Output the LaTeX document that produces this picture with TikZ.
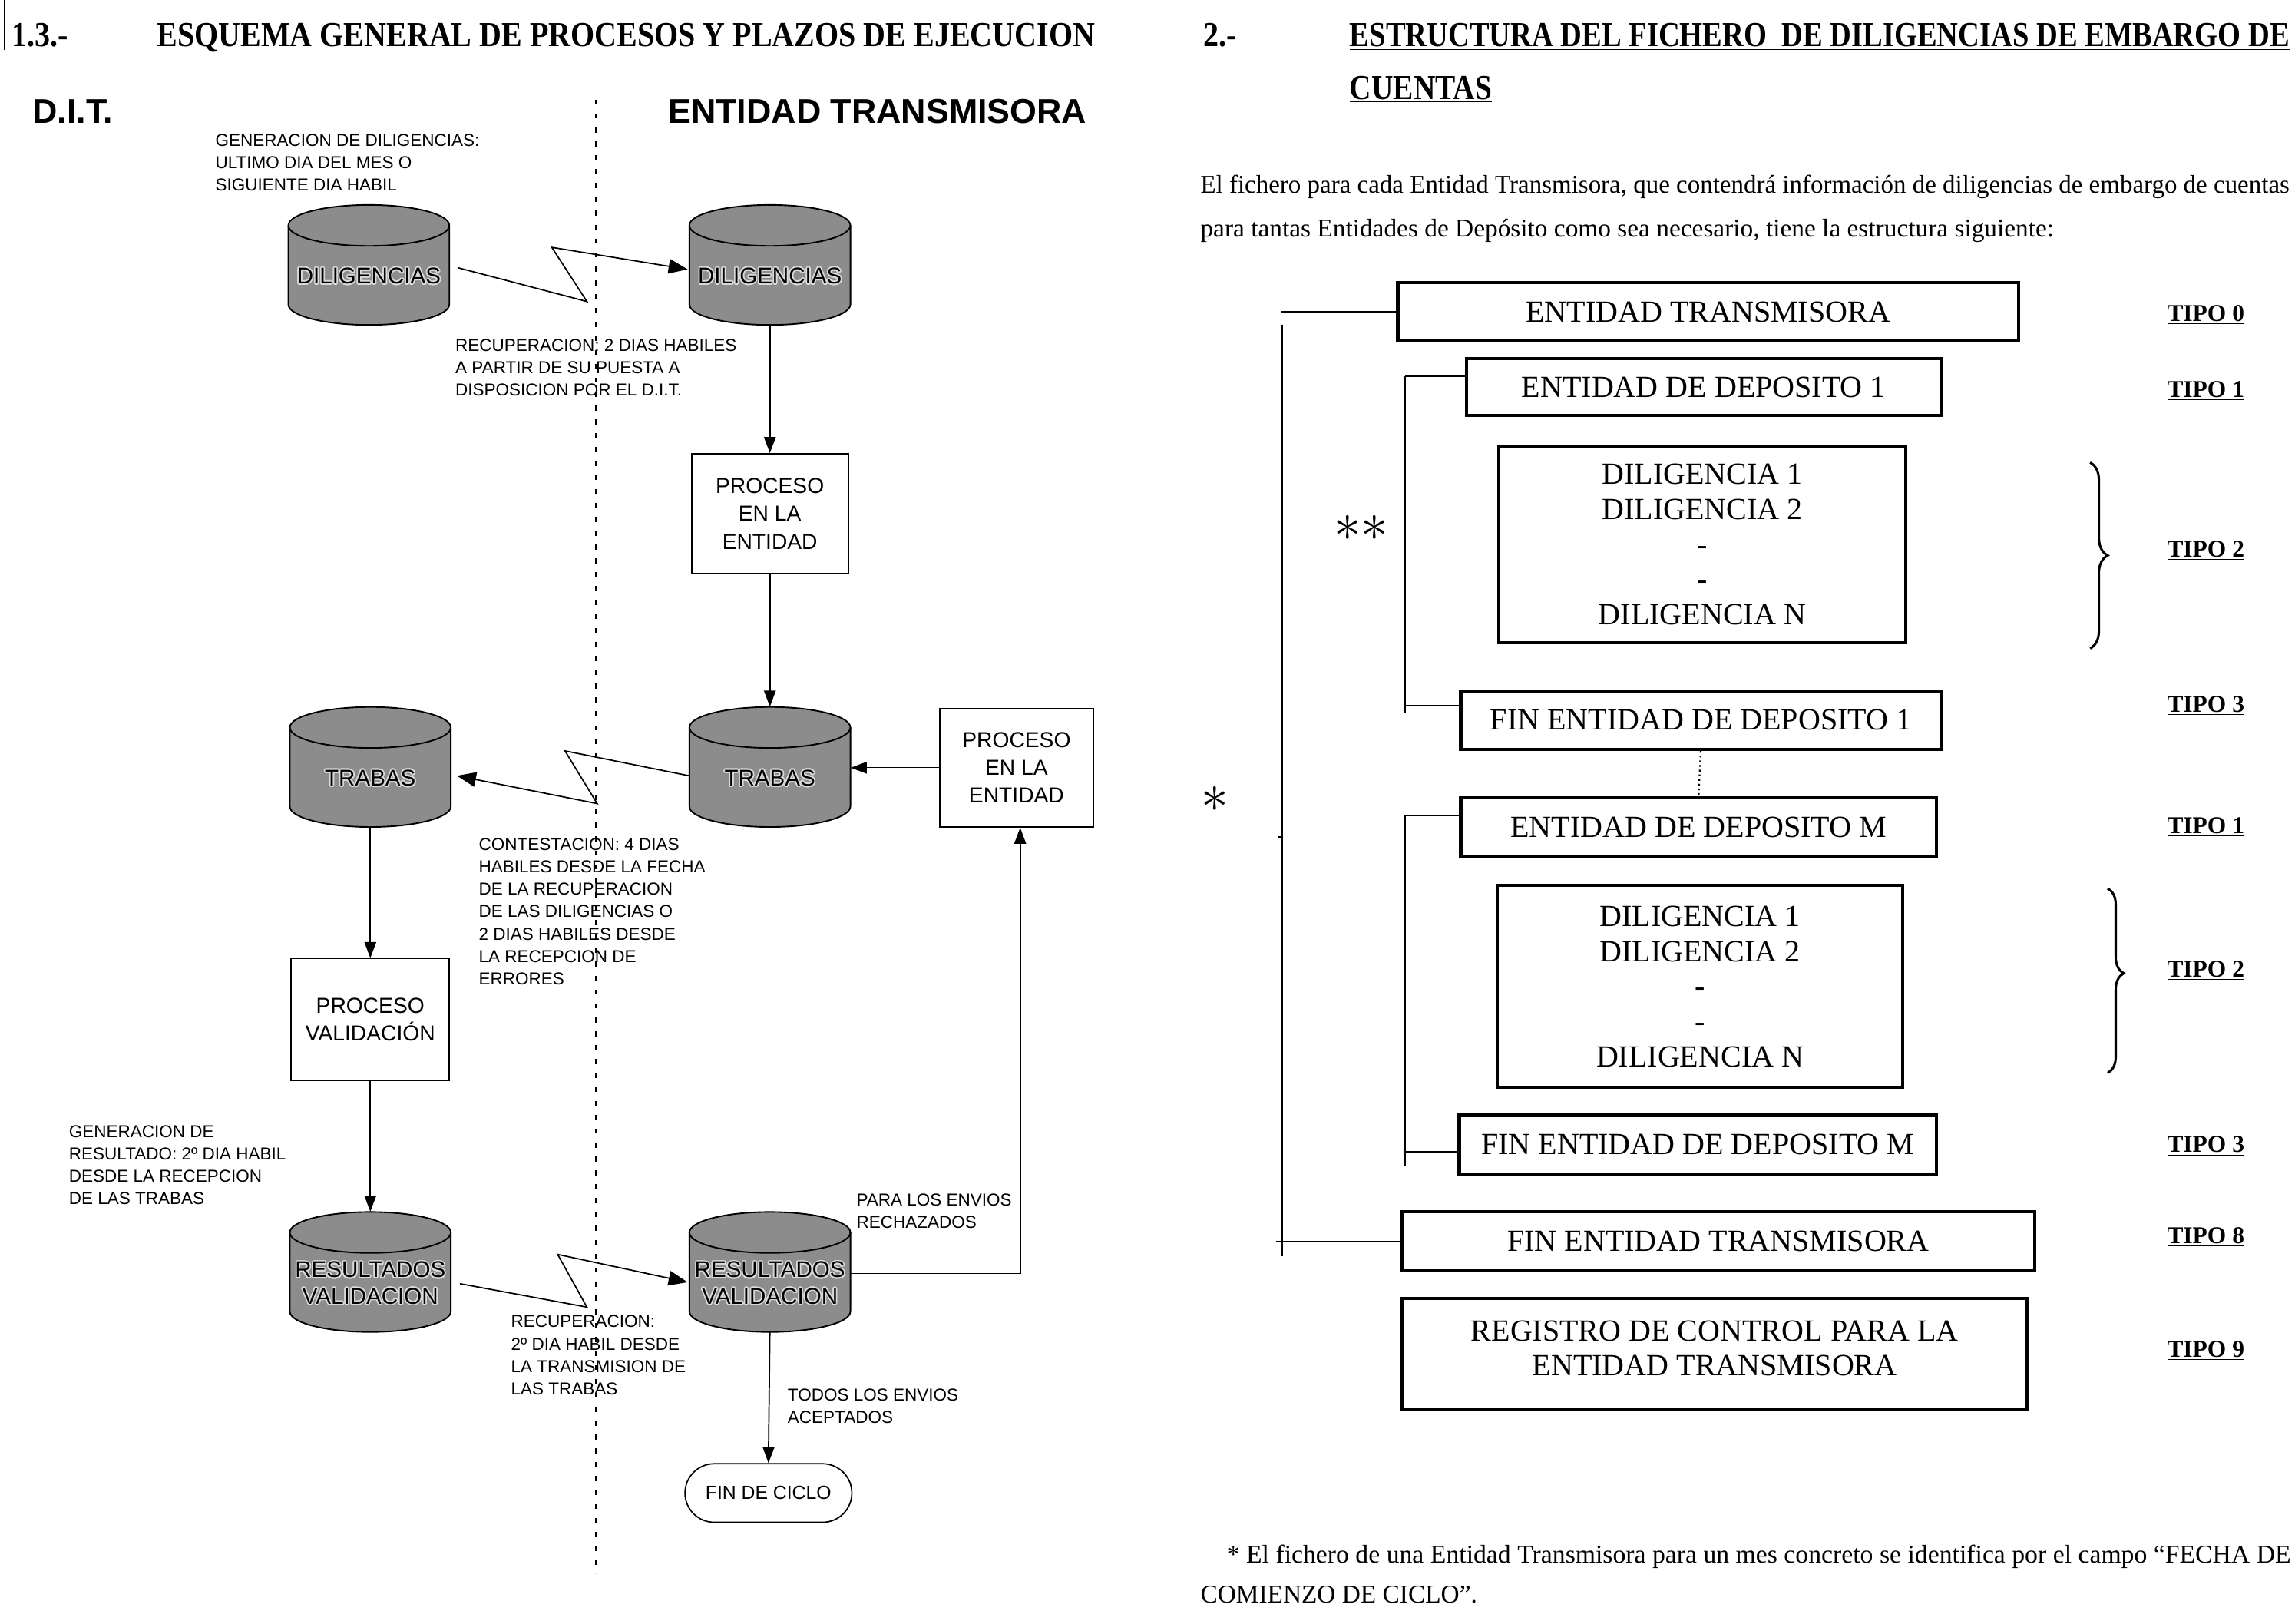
\documentclass[tikz,border=0pt]{standalone}
\usepackage{fontspec}
\setmainfont{Liberation Serif}
\newfontfamily\arialf{Liberation Sans}
\usepackage{contour}
\contourlength{0.9pt}
\usetikzlibrary{arrows.meta,decorations.pathreplacing,calc}
\definecolor{cylgray}{gray}{0.55}
\definecolor{cylhalo}{gray}{0.85}
\newcommand\ct[1]{\contour{cylhalo}{#1}}
\newcommand\dbcyl[4]{%
  \filldraw[fill=cylgray, draw=black, line width=1pt]
    (#2-55,#3+14) -- (#2-55,#3+68)
    arc[start angle=180, end angle=360, x radius=55pt, y radius=14pt]
    -- (#2+55,#3+14)
    arc[start angle=0, end angle=180, x radius=55pt, y radius=14pt] -- cycle;
  \draw[line width=1pt] (#2-55,#3+14) arc[start angle=180, end angle=360, x radius=55pt, y radius=14pt];
  \node[cylanchor] (#1) at (#2,#3+41) {};
  \node[cyltext] (#1-t) at (#2,#3+49) {#4};
}
\begin{document}
\begin{tikzpicture}[x=1pt,y=-1pt,
  lbl/.style={font=\arialf\fontsize{11.8}{15.3}\selectfont, align=left, anchor=north west, inner sep=0pt},
  procbox/.style={draw, line width=0.9pt, font=\arialf\fontsize{14.8}{19}\selectfont, align=center, inner sep=0pt},
  cylanchor/.style={minimum width=110pt, minimum height=82pt, inner sep=0pt},
  cyltext/.style={font=\arialf\fontsize{15.5}{19}\selectfont, align=center, inner sep=0pt},
  flow/.style={line width=0.9pt, -{Triangle[length=11pt,width=8pt]}},
  zig/.style={line width=0.9pt, -{Triangle[length=13pt,width=10pt]}},
  rbox/.style={draw, line width=2.2pt, font=\fontsize{21}{24}\selectfont, align=center, inner sep=0pt},
  tipo/.style={font=\bfseries\fontsize{16.5}{20}\selectfont, inner sep=0pt},
  brk/.style={line width=1pt},
  hdr/.style={font=\arialf\bfseries\fontsize{23.5}{27}\selectfont, inner sep=0pt},
  ttl/.style={font=\bfseries\fontsize{24}{28}\selectfont, anchor=base west, inner sep=0pt},
  para/.style={font=\fontsize{17.5}{21}\selectfont, anchor=base west, inner sep=0pt},
  star/.style={font=\fontsize{30}{30}\selectfont, inner sep=0pt},
]
\fill[white] (0,0) rectangle (1568,1109.5);
\useasboundingbox (0,0) rectangle (1568,1109.5);

% scan edge mark
\draw[line width=0.8pt] (3,0) -- (3,34);

%================ LEFT PANEL =================
\node[ttl] (n13) at (8,32) {\scalebox{0.875}[1]{1.3.-}};
\node[ttl] (ttlL) at (107,32) {\resizebox{641pt}{\height}{\underline{ESQUEMA GENERAL DE PROCESOS Y PLAZOS DE EJECUCION}}};
\node[hdr, anchor=west] (hdit) at (22,76) {D.I.T.};
\node[hdr] (het) at (599.5,76) {ENTIDAD TRANSMISORA};

\coordinate (dtop) at (407,68);
\coordinate (dbot) at (407,1075);
\draw[line width=1pt, dash pattern=on 3.5pt off 6pt] (dtop) -- (dbot);

\node[lbl] (lgen) at (147,91.5) {GENERACION DE DILIGENCIAS:\\ULTIMO DIA DEL MES O\\SIGUIENTE DIA HABIL};

\dbcyl{cD1}{252}{140}{\ct{DILIGENCIAS}}
\dbcyl{cD2}{526}{140}{\ct{DILIGENCIAS}}

\node[lbl] (lrec1) at (311,231.5) {RECUPERACION: 2 DIAS HABILES\\A PARTIR DE SU PUESTA A\\DISPOSICION POR EL D.I.T.};

\node[procbox, minimum width=107pt, minimum height=82pt] (p1) at (526,351) {PROCESO\\EN LA\\ENTIDAD};

\dbcyl{cT2}{526}{483}{\ct{TRABAS}}
\dbcyl{cT1}{253}{483}{\ct{TRABAS}}

\node[procbox, minimum width=105pt, minimum height=81pt] (p2) at (694.5,524.5) {PROCESO\\EN LA\\ENTIDAD};

\node[lbl] (lcon) at (327,572.5) {CONTESTACION: 4 DIAS\\HABILES DESDE LA FECHA\\DE LA RECUPERACION\\DE LAS DILIGENCIAS O\\2 DIAS HABILES DESDE\\LA RECEPCION DE\\ERRORES};

\node[procbox, minimum width=108pt, minimum height=83pt] (pv) at (253,696.5) {PROCESO\\VALIDACIÓN};

\node[lbl] (lgres) at (47,768.5) {GENERACION DE\\RESULTADO: 2º DIA HABIL\\DESDE LA RECEPCION\\DE LAS TRABAS};

\dbcyl{cR1}{253}{828}{\ct{RESULTADOS}\\[-1pt]\ct{VALIDACION}}
\dbcyl{cR2}{526}{828}{\ct{RESULTADOS}\\[-1pt]\ct{VALIDACION}}

\node[lbl] (lpara) at (585,815.5) {PARA LOS ENVIOS\\RECHAZADOS};
\node[lbl] (lrec2) at (349,898.5) {RECUPERACION:\\2º DIA HABIL DESDE\\LA TRANSMISION DE\\LAS TRABAS};
\node[lbl] (ltod) at (538,948.5) {TODOS LOS ENVIOS\\ACEPTADOS};

\node[draw, line width=0.9pt, rounded corners=20pt, minimum width=114pt, minimum height=40pt,
      font=\arialf\fontsize{13}{16}\selectfont, inner sep=0pt] (fin) at (525,1020) {FIN DE CICLO};

% zigzag connectors
\coordinate (z1a) at (401,206);
\coordinate (z1b) at (377,169);
\draw[zig] ([xshift=6pt,yshift=-2pt]cD1.east) -- (z1a) -- (z1b) -- ([xshift=-1pt,yshift=-3pt]cD2.west);
\coordinate (z2a) at (386,513);
\coordinate (z2b) at (408,549);
\draw[zig] ([yshift=-6pt]cT2.west) -- (z2a) -- (z2b) -- ([xshift=4pt,yshift=-6pt]cT1.east);
\coordinate (z3a) at (401,893);
\coordinate (z3b) at (381,857);
\draw[zig] ([xshift=6pt,yshift=-8pt]cR1.east) -- (z3a) -- (z3b) -- ([xshift=-1pt,yshift=-7pt]cR2.west);

% straight connectors
\draw[flow] (cD2.south) -- (p1.north);
\draw[flow] (p1.south) -- (cT2.north);
\draw[flow, line width=0.7pt] (p2.west) -- (p2.west -| cT2.east);
\draw[flow] (cT1.south) -- (pv.north);
\draw[flow] (pv.south) -- (cR1.north);
\draw[flow] ([yshift=-1pt]cR2.east) -| ([xshift=2.5pt]p2.south);
\draw[flow] (cR2.south) -- (fin.north);

%================ RIGHT PANEL =================
\node[ttl] (n2) at (822,32) {\scalebox{0.875}[1]{2.-}};
\node[ttl] (ttlR1) at (922,32) {\resizebox{642pt}{\height}{\underline{ESTRUCTURA DEL FICHERO\ \ DE DILIGENCIAS DE EMBARGO DE}}};
\node[ttl] (ttlR2) at (922,68) {\scalebox{0.86}[1]{\underline{CUENTAS}}};

\node[para] (par1) at (820,132) {\resizebox{744pt}{\height}{El fichero para cada Entidad Transmisora, que contendrá información de diligencias de embargo de cuentas}};
\node[para] (par2) at (820,162) {para tantas Entidades de Depósito como sea necesario, tiene la estructura siguiente:};

\node[rbox, minimum width=424pt, minimum height=40pt] (bET) at (1167,213) {ENTIDAD TRANSMISORA};
\node[rbox, minimum width=324pt, minimum height=39pt] (bED1) at (1164,264.5) {ENTIDAD DE DEPOSITO 1};
\node[rbox, minimum width=278pt, minimum height=134pt] (bDL1) at (1163,372) {DILIGENCIA 1\\DILIGENCIA 2\\-\\-\\DILIGENCIA N};
\node[rbox, minimum width=328pt, minimum height=40pt] (bFED1) at (1162,492) {FIN ENTIDAD DE DEPOSITO 1};
\node[rbox, minimum width=325pt, minimum height=40pt] (bEDM) at (1160.5,565) {ENTIDAD DE DEPOSITO M};
\node[rbox, minimum width=277pt, minimum height=138pt] (bDLM) at (1161.5,674) {DILIGENCIA 1\\DILIGENCIA 2\\-\\-\\DILIGENCIA N};
\node[rbox, minimum width=326pt, minimum height=40pt] (bFEDM) at (1160,782) {FIN ENTIDAD DE DEPOSITO M};
\node[rbox, minimum width=432pt, minimum height=40pt] (bFET) at (1174,848) {FIN ENTIDAD TRANSMISORA};
\node[rbox, minimum width=427pt, minimum height=76pt] (bREG) at (1171.5,925) {};
\node[font=\fontsize{21}{23.5}\selectfont, align=center, inner sep=0pt] (tREG) at (1171.5,921) {REGISTRO DE CONTROL PARA LA\\ENTIDAD TRANSMISORA};

\node[tipo] (t0) at (1507,215) {\underline{TIPO 0}};
\node[tipo] (t1) at (1507,267) {\underline{TIPO 1}};
\node[tipo] (t2) at (1507,376) {\underline{TIPO 2}};
\node[tipo] (t3) at (1507,482) {\underline{TIPO 3}};
\node[tipo] (t1m) at (1507,565) {\underline{TIPO 1}};
\node[tipo] (t2m) at (1507,663) {\underline{TIPO 2}};
\node[tipo] (t3m) at (1507,783) {\underline{TIPO 3}};
\node[tipo] (t8) at (1507,845) {\underline{TIPO 8}};
\node[tipo] (t9) at (1507,923) {\underline{TIPO 9}};

% outer bracket
\coordinate (obtop) at (876,222);
\coordinate (obbot) at (876,858);
\draw[brk] (bET.west) -- (bET.west -| 875,0);
\draw[brk] (obtop) -- (obbot);
\draw[brk] (bFET.west) -- (bFET.west -| 872,0);
\draw[brk] (876,572) -- (873,572);

% inner brackets
\coordinate (ib1t) at (960,257);
\coordinate (ib1b) at (960,487);
\draw[brk] (ib1t) -- (ib1b);
\draw[brk] (ib1t) -- (ib1t -| bED1.west);
\draw[brk] (960,482) -- (bFED1.west |- 960,482);
\coordinate (ib2t) at (960,557);
\coordinate (ib2b) at (960,797);
\draw[brk] (ib2t) -- (ib2b);
\draw[brk] (ib2t) -- (ib2t -| bEDM.west);
\draw[brk] (960,787) -- (bFEDM.west |- 960,787);

% dotted link
\draw[line width=1.2pt, dotted] (bFED1.south) -- (bEDM.north);

% braces
\draw[line width=1.6pt, decorate, decoration={brace, amplitude=12pt, aspect=0.5}] (1428,316) -- (1428,443);
\draw[line width=1.6pt, decorate, decoration={brace, amplitude=11pt, aspect=0.46}] (1440,607) -- (1440,733);

% stars
\node[star] (s2) at (930,361) {\scalebox{1.5}{$\ast\ast$}};
\node[star] (s1) at (830,546) {\scalebox{1.5}{$\ast$}};

% footnote
\node[para] (fn1) at (838,1068) {\resizebox{727pt}{\height}{* El fichero de una Entidad Transmisora para un mes concreto se identifica por el campo “FECHA DE}};
\node[para] (fn2) at (820,1095) {COMIENZO DE CICLO”.};
\end{tikzpicture}
\end{document}
